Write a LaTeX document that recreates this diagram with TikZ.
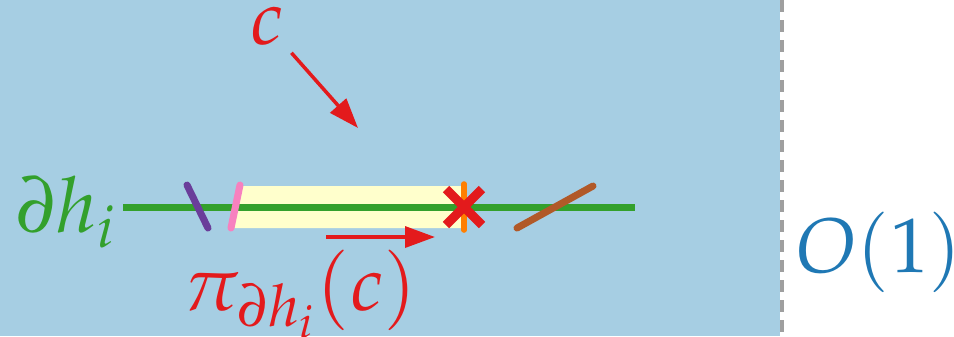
\documentclass[tikz,border=0pt]{standalone}
\usepackage{mathpazo}
\usepackage{tikz}
\usetikzlibrary{arrows.meta, positioning}
\definecolor{bgblue}{RGB}{166,206,227}
\definecolor{labelblue}{RGB}{31,120,180}
\definecolor{pcgreen}{RGB}{51,160,44}
\definecolor{pcred}{RGB}{227,26,28}
\definecolor{pcorange}{RGB}{255,127,0}
\definecolor{pcpurple}{RGB}{106,61,154}
\definecolor{pcpink}{RGB}{247,129,191}
\definecolor{pcbrown}{RGB}{177,89,40}
\definecolor{paleyellow}{RGB}{255,255,204}

\begin{document}
\begin{tikzpicture}[
    x=0.1mm, y=-0.1mm,
    lbl/.style={font=\fontsize{22}{26}\selectfont, inner sep=0pt},
    seg/.style={line width=2pt, line cap=round},
    arrow/.style={-{Triangle[length=3mm, width=2.1mm]}, line width=1pt, draw=pcred}
]
\useasboundingbox (0,0) rectangle (954,336);

% === REGION ===
\fill[bgblue] (0,0) rectangle (780,336);
\draw[gray!75, line width=1pt, dash pattern=on 1.2mm off 0.8mm] (782,0) -- (782,336);

% === PROJECTION STRIP ===
\fill[paleyellow] (240,186) -- (230,228) -- (464,228) -- (464,186) -- cycle;

% === BOUNDARY ===
\draw[pcgreen, line width=2pt] (123,207) -- (635,207);
\draw[seg, pcpurple] (187,185) -- (208,228);
\draw[seg, pcpink] (240,185) -- (231,228);
\draw[seg, pcorange, line width=1.6pt] (464,184) -- (464,230);
\draw[pcred, line width=2.6pt] (446,189) -- (482,225) (446,225) -- (482,189);
\draw[seg, pcbrown] (517,228) -- (593,186);

% === LABELS ===
\node[lbl, text=pcgreen, anchor=base west] (bdry) at (16,232) {$\partial h_i$};
\node[lbl, text=pcred, anchor=base west] (cl) at (250,44) {$c$};
\node[lbl, text=pcred, anchor=base west] (proj) at (183,310) {$\pi_{\partial h_i}(c)$};
\node[lbl, text=labelblue, anchor=base west] (order) at (796,272) {$O(1)$};

% Arrows
\coordinate (ctip) at (358,128);
\coordinate (pstart) at (326,237);
\coordinate (pend) at (435,237);
\draw[arrow, shorten <=1mm] (cl) -- (ctip);
\draw[arrow] (pstart) -- (pend);

\end{tikzpicture}
\end{document}
